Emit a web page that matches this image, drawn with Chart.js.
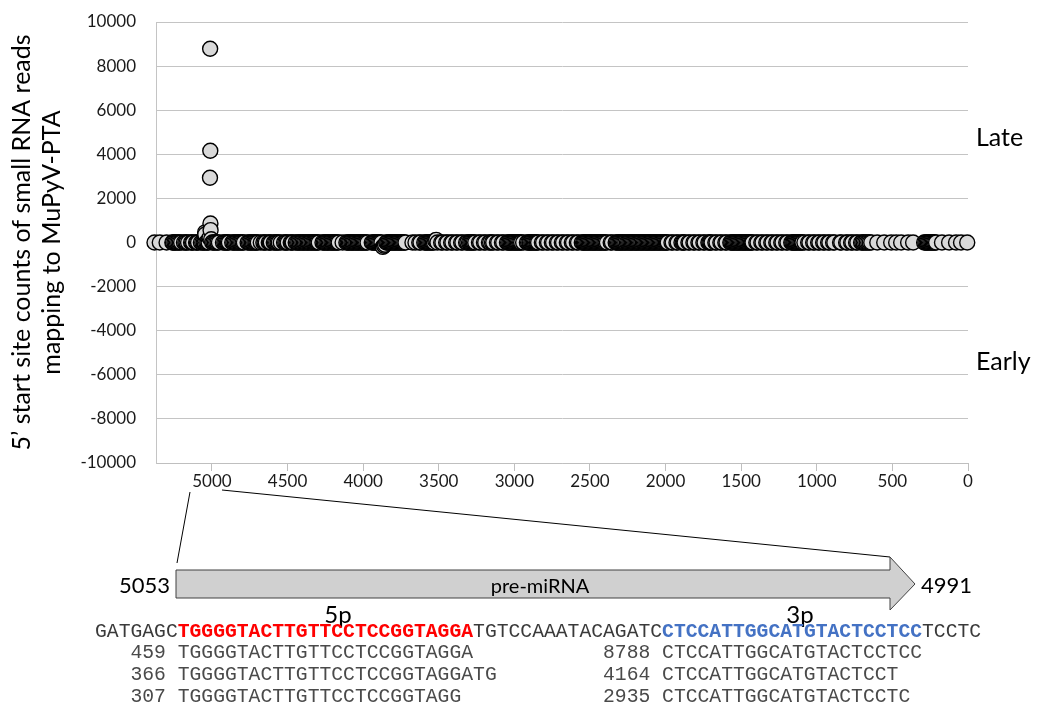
<!DOCTYPE html>
<html><head><meta charset="utf-8">
<script src="https://cdn.jsdelivr.net/npm/chart.js@4.4.1/dist/chart.umd.min.js"></script>
<style>
html,body{margin:0;padding:0;background:#fff;}
#wrap{position:relative;width:1039px;height:703px;overflow:hidden;background:#fff;}
canvas{position:absolute;left:0;top:0;}
.lbl{position:absolute;font-family:Lato,sans-serif;color:#000;white-space:nowrap;transform:translate(-50%,-50%);line-height:1;}
.lft{transform:translate(0,-50%);}
.rgt{transform:translate(-100%,-50%);}
.mono{position:absolute;left:95px;font-family:"Liberation Mono","Courier New",monospace;font-size:19.7px;white-space:pre;line-height:22px;color:#3a3a3a;transform:translate(0,-50%);}
.mono.row{color:#4a4a4a;}
.p5{color:#ff0000;font-weight:bold;}
.p3{color:#4472c4;font-weight:bold;}
</style></head>
<body><div id="wrap"><canvas id="c" width="1039" height="703"></canvas>
<div class="lbl lft" style="left:976px;top:136px;font-size:25px;">Late</div>
<div class="lbl lft" style="left:976px;top:360px;font-size:25px;">Early</div>
<div class="lbl rgt" style="left:170px;top:585px;font-size:22px;">5053</div>
<div class="lbl lft" style="left:921px;top:585px;font-size:22px;">4991</div>
<div class="lbl" style="left:540px;top:585px;font-size:20px;">pre-miRNA</div>
<div class="lbl" style="left:338px;top:614px;font-size:24px;">5p</div>
<div class="lbl" style="left:800px;top:614px;font-size:24px;">3p</div>
<div id="seq" class="mono" style="top:632px;"></div>
<div id="r1" class="mono row" style="top:653px;"></div>
<div id="r2" class="mono row" style="top:675px;"></div>
<div id="r3" class="mono row" style="top:697px;"></div>
</div>
<script>
// ---- data ----
const yTickValues = [-10000,-8000,-6000,-4000,-2000,0,2000,4000,6000,8000,10000];
const xTickValues = [5000,4500,4000,3500,3000,2500,2000,1500,1000,500,0];
// genome start positions with small-RNA 5' ends (descending, as plotted left to right)
const sitePositions = [
5380,5345,5300,5262,5257,
5248,5240,5231,5222,5213,5204,
5185,5176,5168,5158,5138,5131,5125,5105,5099,5092,5073,
5064,5055,5048,5046,5045,5044,5038,5030,5022,5016,5013,5012,5011,5010,5009,5005,4998,4990,4981,4972,4963,4954,
4927,4918,4910,4902,4895,4888,
4866,4858,4849,4840,4831,4822,4814,4806,4797,4789,
4764,4755,4746,4737,4729,4720,4712,4705,4697,4677,4660,4652,4644,4624,4618,4611,4591,4583,4575,4566,4558,4545,4523,4515,4507,4499,4479,4472,4466,
4446,4437,4429,4420,4411,4402,4393,4385,4376,4367,4359,4351,4342,4333,4325,4317,4309,4302,4294,
4269,4261,4253,4244,4236,4228,4219,4210,4202,4194,4186,4178,4170,4162,4136,
4111,4103,4095,4087,4078,4070,4062,4053,4045,4036,4028,4020,4012,4004,3996,3988,3980,3971,
3943,3935,3927,3919,3911,3903,3895,3887,3879,3870,3862,3855,3847,3840,3832,3824,3816,3808,3800,3792,3784,3776,3768,3760,3752,3744,3736,3728,3720,
3674,3654,3629,3621,3596,3588,3580,3572,3564,3556,3548,3540,3532,3524,3517,3509,3484,3476,3451,3443,3418,3410,3385,3377,3352,3344,3319,3311,
3300,3292,3284,3276,3268,3259,3234,3226,3201,3193,3168,3160,3148,3140,3115,3107,3082,3074,3049,3041,
3033,3025,3017,3009,3001,2993,2985,2977,2969,2962,2955,2942,2917,2909,2901,2896,2888,2880,2872,2864,2856,2850,
2843,2818,2810,2785,2777,2752,2744,2719,2711,2686,2678,2653,2645,2620,2612,2587,2579,2554,2546,2540,2533,
2525,2517,2509,2501,2493,2485,2477,2469,2461,2453,2445,2437,2429,2421,2413,2405,2397,2388,2363,2355,2330,2322,2314,2306,2298,2290,2282,2274,2266,2256,
2248,2240,2232,2224,2216,2208,2200,2192,2184,2176,2168,2160,2151,2143,2135,2127,2119,2111,2103,2095,2087,2079,2071,2063,2055,2047,2039,2031,2023,2015,2007,1999,1992,
1986,1961,1953,1928,1920,1895,1887,1880,1874,1849,1841,1816,1808,1783,1775,1750,1742,1717,1710,1703,1696,1671,1663,1638,1630,1605,1597,1572,1565,1557,
1549,1541,1533,1525,1517,1509,1501,1493,1485,1477,1469,1461,1453,1445,1437,1431,1425,1400,1392,1367,1359,1334,1326,1301,1293,1268,1260,1235,1227,1202,1194,1169,1162,1155,1148,
1140,1132,1124,1116,1108,1100,1095,1082,1057,1049,1024,1016,991,983,958,950,925,917,892,884,846,838,806,798,773,765,740,732,707,699,
690,680,670,660,650,640,600,554,508,475,442,396,363,
290,282,274,266,258,250,242,234,226,218,211,172,125,79,46,5
];
// read counts (all other sites are ~0 at this scale)
const siteCounts = {
5046:307, 5045:459, 5044:366, 5016:210, 5013:2935, 5012:8788, 5011:4164, 5010:860, 5009:560, 5005:150,
3870:-200, 3862:-150, 3855:-100, 3524:90, 3517:120
};
const refSeq = ["GATGAGC","TGGGGTACTTGTTCCTCCGGTAGGA","TGTCCAAATACAGATC","CTCCATTGGCATGTACTCCTCC","TCCTC"];
const readRows = [
  ["459","TGGGGTACTTGTTCCTCCGGTAGGA","8788","CTCCATTGGCATGTACTCCTCC"],
  ["366","TGGGGTACTTGTTCCTCCGGTAGGATG","4164","CTCCATTGGCATGTACTCCT"],
  ["307","TGGGGTACTTGTTCCTCCGGTAGG","2935","CTCCATTGGCATGTACTCCTC"]
];

// ---- text below the chart ----
document.getElementById('seq').innerHTML = refSeq[0] + '<span class="p5">' + refSeq[1] + '</span>' + refSeq[2] + '<span class="p3">' + refSeq[3] + '</span>' + refSeq[4];
const col3p = refSeq[0].length + refSeq[1].length + refSeq[2].length;
readRows.forEach((r, i) => {
  let left = '   ' + r[0] + ' ' + r[1];
  let start = col3p - (r[2].length + 1);
  while (left.length < start) left += ' ';
  document.getElementById('r' + (i + 1)).textContent = left + r[2] + ' ' + r[3];
});

// ---- chart ----
const points = sitePositions.map(p => ({x: p, y: (siteCounts[p] !== undefined ? siteCounts[p] : 0)}));

const zoomArrow = {
  id: 'zoomArrow',
  afterDraw(chart) {
    const ctx = chart.ctx;
    ctx.save();
    ctx.strokeStyle = '#000';
    ctx.lineWidth = 1;
    ctx.beginPath();
    ctx.moveTo(190, 492); ctx.lineTo(177, 563);
    ctx.moveTo(222, 490); ctx.lineTo(890, 557);
    ctx.stroke();
    ctx.beginPath();
    ctx.moveTo(176, 570); ctx.lineTo(890, 570); ctx.lineTo(890, 557);
    ctx.lineTo(915, 584); ctx.lineTo(890, 610); ctx.lineTo(890, 598);
    ctx.lineTo(176, 598); ctx.closePath();
    ctx.fillStyle = '#d0d0d0'; ctx.fill();
    ctx.strokeStyle = '#404040'; ctx.stroke();
    ctx.restore();
  }
};

new Chart(document.getElementById('c'), {
  type: 'scatter',
  data: { datasets: [{
    data: points,
    pointRadius: 7.5,
    pointBorderWidth: 1.4,
    backgroundColor: '#d9d9d9',
    borderColor: '#000',
    clip: false
  }]},
  options: {
    responsive: false,
    animation: false,
    events: [],
    devicePixelRatio: 1,
    layout: { autoPadding: false, padding: { left: 0, right: 71, top: 22, bottom: 200 } },
    plugins: { legend: { display: false }, tooltip: { enabled: false } },
    scales: {
      x: {
        type: 'linear', position: 'bottom', reverse: true, min: 0, max: 5370,
        afterFit(s) { s.height = 40; s.paddingLeft = 0; s.paddingRight = 0; },
        afterBuildTicks(s) { s.ticks = xTickValues.map(v => ({value: v})); },
        ticks: { includeBounds: false, stepSize: 500, maxRotation: 0, autoSkip: false, padding: 0,
          color: '#1a1a1a', font: { family: 'Lato', size: 17 }, callback: v => String(v) },
        grid: { drawOnChartArea: false, drawTicks: true, tickLength: 8, color: '#bfbfbf' },
        border: { color: '#bfbfbf' }
      },
      y: {
        min: -10000, max: 10000,
        afterFit(s) { s.width = 156; s.paddingTop = 0; s.paddingBottom = 0; },
        afterBuildTicks(s) { s.ticks = yTickValues.map(v => ({value: v})); },
        ticks: { padding: 20, color: '#1a1a1a', font: { family: 'Lato', size: 17 }, callback: v => String(v) },
        grid: { drawTicks: false, color: '#c4c4c4' },
        border: { color: '#c4c4c4' },
        title: { display: true, text: ['5\u2019 start site counts of small RNA reads', 'mapping to MuPyV-PTA'],
          color: '#000', font: { family: 'Lato', size: 25, lineHeight: 1.2 }, padding: { top: 7, bottom: 0 } }
      }
    }
  },
  plugins: [zoomArrow]
});
</script>
</body></html>
